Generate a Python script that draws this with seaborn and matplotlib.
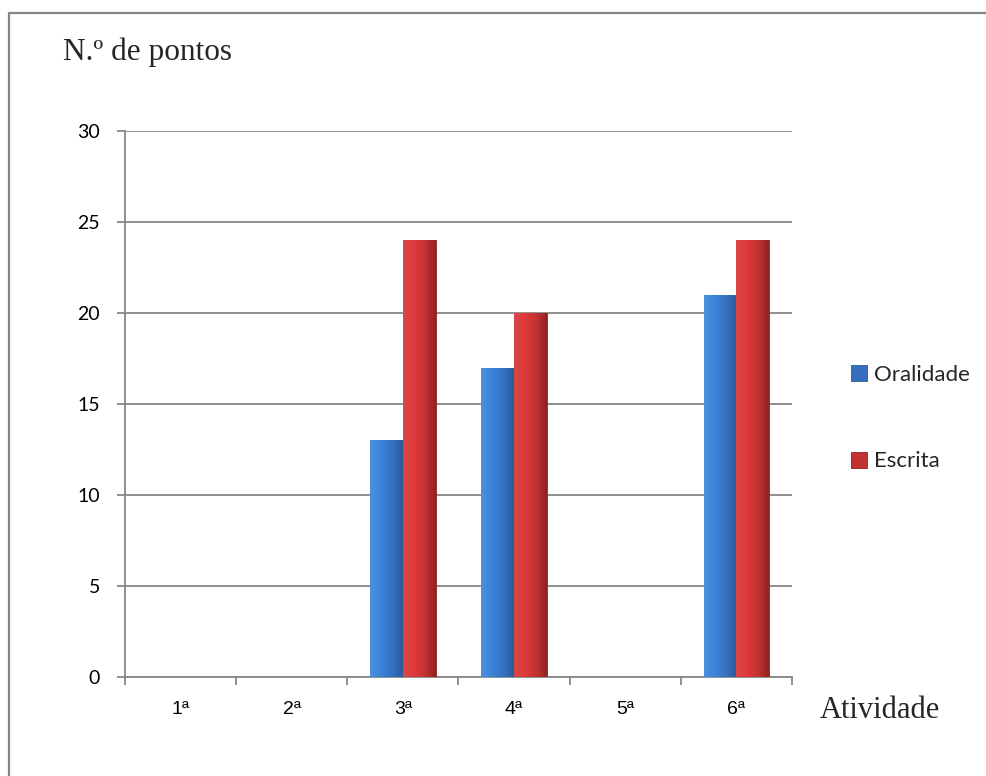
import numpy as np
import pandas as pd
import matplotlib
matplotlib.use("Agg")
import matplotlib.pyplot as plt
import seaborn as sns
from matplotlib.colors import LinearSegmentedColormap, to_hex
from matplotlib.patches import Patch
from matplotlib.lines import Line2D

# ---- data ----
activities = ["1ª", "2ª", "3ª", "4ª", "5ª", "6ª"]
oralidade = [0, 0, 13, 17, 0, 21]
escrita = [0, 0, 24, 20, 0, 24]
series_names = ["Oralidade", "Escrita"]
y_ticks = [0, 5, 10, 15, 20, 25, 30]

base_colors = {"Oralidade": "#3a78c8", "Escrita": "#c83636"}
shades = {
    "Oralidade": ["#4d8fdc", "#3d84dc", "#3570c0", "#2c5a98"],
    "Escrita": ["#d64848", "#e03a3c", "#c23232", "#8e2222"],
}

df = pd.DataFrame({
    "Atividade": activities * 2,
    "Pontos": oralidade + escrita,
    "Série": [series_names[0]] * len(activities) + [series_names[1]] * len(activities),
})

sns.set_theme(style="white")
sans = ["Lato", "DejaVu Sans"]
serif = ["Liberation Serif", "DejaVu Serif"]
plt.rcParams["font.family"] = sans

W, H = 986, 776
fig = plt.figure(figsize=(W / 100, H / 100), dpi=100)
fig.patch.set_facecolor("white")
ax = fig.add_axes([125 / W, 1 - 677 / H, (792 - 125) / W, (677 - 131) / H])

sns.barplot(data=df, x="Atividade", y="Pontos", hue="Série",
            hue_order=series_names, order=activities,
            palette=base_colors, width=0.59, saturation=1,
            legend=False, ax=ax, zorder=3)

ax.set_xlim(-0.5, len(activities) - 0.5)
ax.set_ylim(0, 30)

# shaded fill for each bar, left-to-right
grad = np.linspace(0, 1, 64).reshape(1, -1)
cmaps = {k: LinearSegmentedColormap.from_list(k, list(zip([0, 0.3, 0.7, 1], v)))
         for k, v in shades.items()}
base_hex = {to_hex(v): k for k, v in base_colors.items()}
for p in list(ax.patches):
    h = p.get_height()
    name = base_hex.get(to_hex(p.get_facecolor()))
    if name is None:
        continue
    if h <= 0:
        # empty bars leave no visible trace
        p.set_linewidth(0)
        continue
    x0 = p.get_x()
    w = p.get_width()
    p.set_edgecolor(shades[name][3])
    p.set_linewidth(0.6)
    im = ax.imshow(grad, extent=[x0, x0 + w, 0, h], aspect="auto",
                   cmap=cmaps[name], zorder=3.5, interpolation="bicubic")
    im.set_clip_path(p)

ax.set_xlim(-0.5, len(activities) - 0.5)
ax.set_ylim(0, 30)
ax.set_aspect("auto")

gray = "#878787"
ax.set_yticks(y_ticks)
ax.yaxis.grid(True, color=gray, lw=1.3, zorder=0)
ax.set_axisbelow(True)
for s in ["top", "right"]:
    ax.spines[s].set_visible(False)
for s in ["left", "bottom"]:
    ax.spines[s].set_color(gray)
    ax.spines[s].set_linewidth(1.3)

ax.set_xticks(np.arange(-0.5, len(activities), 1), minor=True)
ax.tick_params(axis="x", which="major", length=0, pad=17, labelsize=14,
               labelcolor="black")
ax.tick_params(axis="x", which="minor", length=6, width=1.3, color=gray,
               direction="out", bottom=True)
ax.tick_params(axis="y", length=6, width=1.3, color=gray, direction="out",
               pad=12, labelsize=14, labelcolor="black", left=True)
for lbl in ax.get_xticklabels():
    lbl.set_family(["Liberation Sans", "DejaVu Sans"])
    lbl.set_fontsize(14)
ax.set_xlabel("")
ax.set_ylabel("")

fig.text(63 / W, 1 - 52 / H, "N.º de pontos", family=serif, fontsize=22.5,
         ha="left", va="center")
fig.text(820 / W, 1 - 711 / H, "Atividade", family=serif, fontsize=22,
         ha="left", va="center")

handles = [Patch(facecolor=shades[n][2], edgecolor=shades[n][3], lw=0.6)
           for n in series_names]
fig.legend(handles, series_names, loc="center left",
           bbox_to_anchor=(851 / W, 1 - 418 / H), frameon=False,
           fontsize=16, handlelength=0.73, handleheight=0.73,
           handletextpad=0.3, labelspacing=3.0, borderpad=0,
           borderaxespad=0)

# outer frame
fig.add_artist(Line2D([9 / W, 9 / W], [0, 1 - 13 / H], transform=fig.transFigure,
                      color=gray, lw=1.6))
fig.add_artist(Line2D([9 / W, 1], [1 - 13 / H, 1 - 13 / H],
                      transform=fig.transFigure, color=gray, lw=1.6))

fig.savefig("out.png", dpi=100, facecolor="white")
